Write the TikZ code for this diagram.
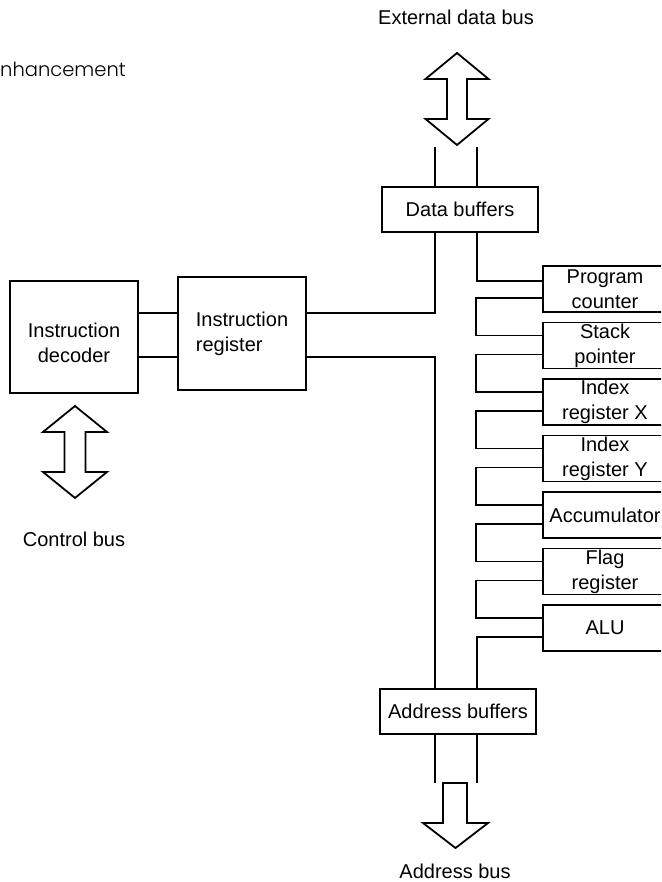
\documentclass[tikz,border=0pt]{standalone}
\usepackage{fontspec}
\setmainfont{Liberation Sans}
\newfontfamily\titlefont{Poppins Light}
\usepackage{tikz}
\usetikzlibrary{positioning}

\begin{document}
\begin{tikzpicture}[x=1pt,y=1pt,font=\fontsize{20}{25}\selectfont,
  box/.style={draw,line width=1.8pt,inner sep=0pt},
  reg/.style={box,minimum width=124pt,minimum height=46pt,align=center},
  buf/.style={box,minimum width=156pt,minimum height=45pt},
  wire/.style={line width=1.8pt},
  bus/.style={line width=1.8pt,line join=miter}]
\clip (0,0) rectangle (661,882);
\node[anchor=base west,inner sep=0pt,font=\titlefont\fontsize{19.5}{24}\selectfont] (title) at (0,805) {nhancement};
\node[anchor=base] (extlbl) at (456,857) {External data bus};
\node[anchor=base] (ctllbl) at (74,335) {Control bus};
\node[anchor=base] (adrlbl) at (455,4) {Address bus};
\node[buf] (db) at (460,672.5) {Data buffers};
\node[buf] (ab) at (458,170.5) {Address buffers};
\node[box,minimum width=128pt,minimum height=112pt,
  label={[yshift=-6pt,align=center]center:Instruction\\decoder}] (dec) at (74,545) {};
\node[box,minimum width=128pt,minimum height=113pt,align=left] (ir) at (242,548.5) {Instruction\\register};
\foreach \nm/\txt [count=\i from 0] in {pc/{Program\\counter},sp/{Stack\\pointer},ix/{Index\\register X},iy/{Index\\register Y},acc/Accumulator,flag/{Flag\\register},alu/ALU}
  \node[reg] (\nm) at (605,{593-56.5*\i}) {\txt};
\draw[bus] (457,829) -- (488.5,803) -- (467,803) -- (467,763) -- (488.5,763) -- (457,737) -- (425.5,763) -- (447,763) -- (447,803) -- (425.5,803) -- cycle;
\draw[bus] (75,476) -- (107,450) -- (85.5,450) -- (85.5,410) -- (107,410) -- (75,384) -- (43,410) -- (64.5,410) -- (64.5,450) -- (43,450) -- cycle;
\draw[bus] (443,99) -- (467,99) -- (467,59) -- (488,59) -- (455.5,34) -- (423,59) -- (443,59) -- cycle;
\draw[wire] ([xshift=-25pt]db.north) -- ++(0,39);
\draw[wire] ([xshift=17pt]db.north) -- ++(0,39);
\draw[wire] ([xshift=-23pt]ab.south) -- ++(0,-48);
\draw[wire] ([xshift=19pt]ab.south) -- ++(0,-48);
\draw[wire] ([yshift=24pt]dec.east) -- ([yshift=20.5pt]ir.west);
\draw[wire] ([yshift=-20pt]dec.east) -- ([yshift=-23.5pt]ir.west);
\draw[wire] ([yshift=20.5pt]ir.east) -| ([xshift=-25pt]db.south);
\draw[wire] ([yshift=-23.5pt]ir.east) -| ([xshift=-23pt]ab.north);
\draw[wire] ([xshift=17pt]db.south) |- ([yshift=8pt]pc.west);
\foreach \a/\b in {pc/sp,sp/ix,ix/iy,iy/acc,acc/flag,flag/alu}
  \draw[wire] ([yshift=-9pt]\a.west) -- ++(-66,0) |- ([yshift=10pt]\b.west);
\draw[wire] ([yshift=-9pt]alu.west) -| ([xshift=19pt]ab.north);
\end{tikzpicture}
\end{document}
